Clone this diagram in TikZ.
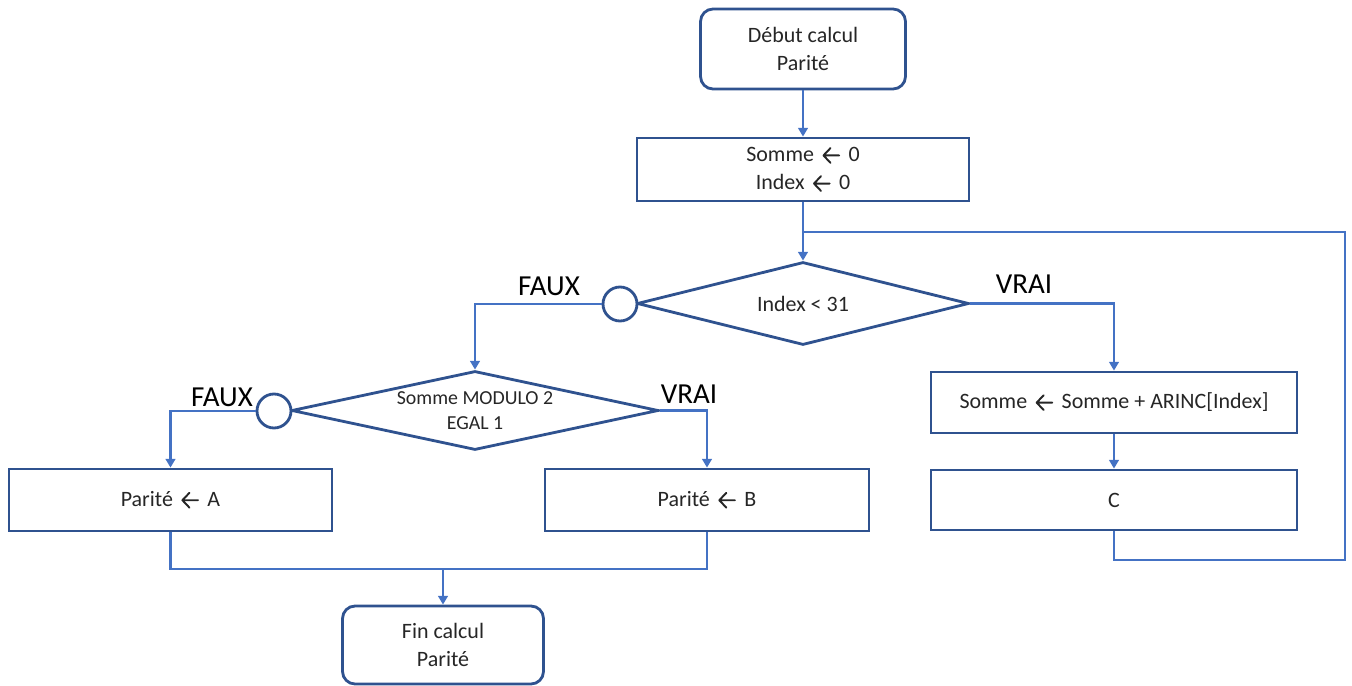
\documentclass[tikz,border=0pt]{standalone}
\usepackage{fontspec}
\setmainfont{Carlito}
\usetikzlibrary{shapes.geometric,arrows.meta}
\definecolor{boxblue}{HTML}{2F528F}
\definecolor{lineblue}{HTML}{4472C4}
\newcommand{\larr}{\hspace{2pt}\tikz[baseline=-3.6pt, x=1pt, y=1pt]\draw[line width=1.1pt, line cap=round, line join=round, black!85] (9.5,0) -- (0.6,0) (4.6,4.2) -- (0.6,0) -- (4.6,-4.2);\hspace{2pt}}
\begin{document}
\begin{tikzpicture}[x=0.02cm,y=-0.02cm,
  every node/.style={font=\fontsize{12.5}{16}\selectfont, text=black!85},
  boxstyle/.style={draw=boxblue, line width=1.6pt, rectangle, inner sep=0pt, align=center},
  termstyle/.style={boxstyle, rounded corners=0.25cm},
  decstyle/.style={draw=boxblue, line width=1.6pt, diamond, aspect=4, inner sep=0pt, align=center},
  circstyle/.style={draw=boxblue, line width=1.6pt, circle, inner sep=0pt, minimum size=0.68cm, fill=white},
  conn/.style={draw=lineblue, line width=1.5pt},
  arr/.style={conn, -{Triangle[length=5pt,width=5.5pt]}},
  lbl/.style={font=\fontsize{16.5}{18}\selectfont, text=black}]
\useasboundingbox (0,0) rectangle (1352,686);

\node[termstyle, minimum width=4.1cm, minimum height=1.6cm] (start) at (803,49) {Début calcul\\Parité};
\node[boxstyle, minimum width=6.64cm, minimum height=1.26cm] (init) at (803,169.5) {Somme \larr{} 0\\Index \larr{} 0};
\node[decstyle, minimum width=6.64cm, minimum height=1.66cm] (d1) at (803,303.5) {Index < 31};
\node[circstyle] (c1) at (620,304) {};
\node[boxstyle, minimum width=7.32cm, minimum height=1.22cm] (sum) at (1114,402.5) {Somme \larr{} Somme + ARINC[Index]};
\node[boxstyle, minimum width=7.32cm, minimum height=1.2cm] (cbox) at (1114,500) {C};
\node[decstyle, minimum width=7.34cm, minimum height=1.58cm, font=\fontsize{11.3}{14}\selectfont] (d2) at (475,410.5) {Somme MODULO 2\\EGAL 1};
\node[circstyle] (c2) at (274,411) {};
\node[boxstyle, minimum width=6.46cm, minimum height=1.24cm] (pa) at (170.5,500) {Parité \larr{} A};
\node[boxstyle, minimum width=6.48cm, minimum height=1.24cm] (pb) at (707,500) {Parité \larr{} B};
\node[termstyle, minimum width=4.02cm, minimum height=1.56cm] (fin) at (443,645) {Fin calcul\\Parité};

\node[lbl] (l1) at (549,286) {FAUX};
\node[lbl] (l2) at (1024,284) {VRAI};
\node[lbl] (l3) at (222,397) {FAUX};
\node[lbl] (l4) at (689,394) {VRAI};

\coordinate (j1) at (803,232);
\coordinate (j2) at (443,569);

\draw[arr] (start.south) -- (init.north);
\draw[arr] (init.south) -- (d1.north);
\draw[conn] (cbox.south) |- (1345,560) |- (j1);
\draw[arr] (c1.west) -| (d2.north);
\draw[arr] (d1.east) -| (sum.north);
\draw[arr] (sum.south) -- (cbox.north);
\draw[arr] (c2.west) -| (pa.north);
\draw[arr] (d2.east) -| (pb.north);
\draw[conn] (pa.south) |- (j2) -| (pb.south);
\draw[arr] (j2) -- (fin.north);
\end{tikzpicture}
\end{document}
